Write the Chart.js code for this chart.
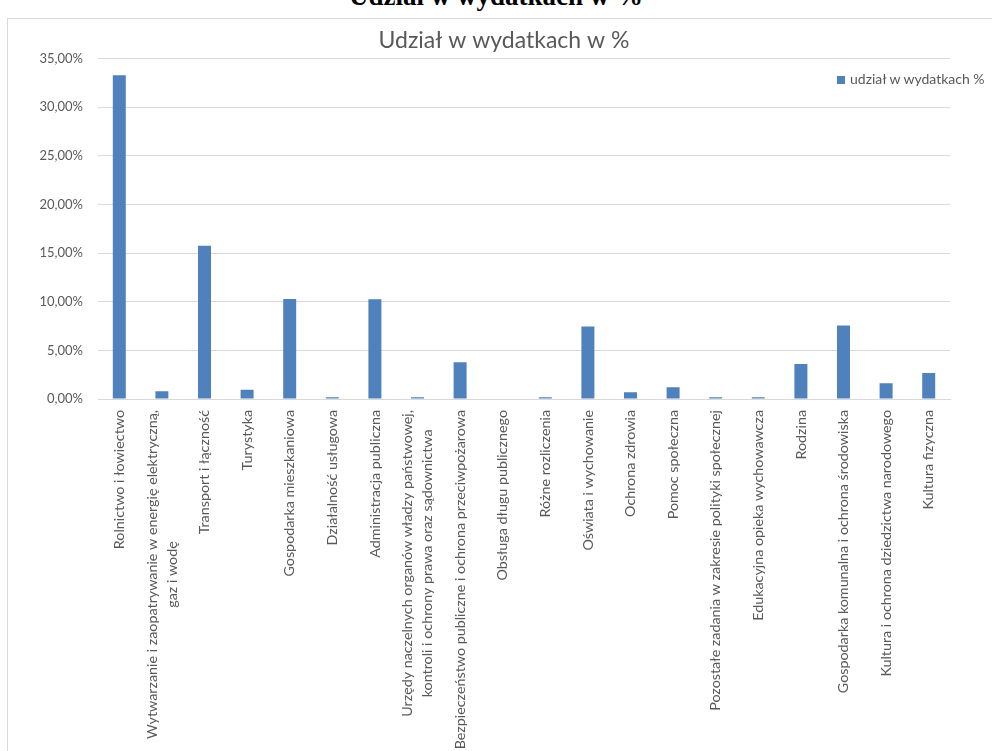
<!DOCTYPE html>
<html>
<head>
<meta charset="utf-8">
<script src="https://cdn.jsdelivr.net/npm/chart.js@4/dist/chart.umd.min.js"></script>
<style>
  html, body { margin: 0; padding: 0; background: #ffffff; overflow: hidden; }
  body { width: 992px; height: 751px; position: relative; }
  #heading { position: absolute; left: 0; width: 992px; top: -16.6px; text-align: center;
    font-family: "Liberation Serif", "Times New Roman", serif; font-weight: bold; font-size: 27px; line-height: 27px; color: #000; }
  #box { position: absolute; left: 7px; top: 18px; width: 1100px; height: 900px; border: 1px solid #d9d9d9; }
  #wrap { position: absolute; left: 0; top: 0; width: 992px; height: 751px; }
  #legend { position: absolute; left: 837px; top: 71px; font-family: Lato, "Open Sans", sans-serif; font-size: 14px; color: #595959; white-space: nowrap; line-height: 16px; }
  #legend span.sw { display: inline-block; width: 8px; height: 8px; background: #4f81bd; margin-right: 5px; vertical-align: 0px; }
</style>
</head>
<body>
<div id="heading">Udział w wydatkach w %</div>
<div id="box"></div>
<div id="wrap"><canvas id="c" width="992" height="751"></canvas></div>
<div id="legend"><span class="sw"></span>udział w wydatkach %</div>
<script>
const chartTitle = "Udział w wydatkach w %";
const seriesName = "udział w wydatkach %";
const categories = [
  "Rolnictwo i łowiectwo",
  ["Wytwarzanie i zaopatrywanie w energię elektryczną,", "gaz i wodę"],
  "Transport i łączność",
  "Turystyka",
  "Gospodarka mieszkaniowa",
  "Działalność usługowa",
  "Administracja publiczna",
  ["Urzędy naczelnych organów władzy państwowej,", "kontroli i ochrony prawa oraz sądownictwa"],
  "Bezpieczeństwo publiczne i ochrona przeciwpożarowa",
  "Obsługa długu publicznego",
  "Różne rozliczenia",
  "Oświata i wychowanie",
  "Ochrona zdrowia",
  "Pomoc społeczna",
  "Pozostałe zadania w zakresie polityki społecznej",
  "Edukacyjna opieka wychowawcza",
  "Rodzina",
  "Gospodarka komunalna i ochrona środowiska",
  "Kultura i ochrona dziedzictwa narodowego",
  "Kultura fizyczna"
];
const shareValues = [33.28, 0.79, 15.77, 0.96, 10.27, 0.17, 10.25, 0.17, 3.78, 0, 0.17, 7.46, 0.69, 1.20, 0.17, 0.17, 3.59, 7.56, 1.61, 2.67];
const yTicks = [0, 5, 10, 15, 20, 25, 30, 35];

const FONT = "Lato, 'Open Sans', sans-serif";
const TXT = "#595959";
const XFONT_SIZE = 14.3;
const XLINE = 20;

// Category labels drawn at the x scale's own tick positions, with multi-line labels centred like Excel
const xLabelPlugin = {
  id: 'xCenteredLabels',
  afterDraw(chart) {
    const s = chart.scales.x;
    const ctx = chart.ctx;
    ctx.save();
    ctx.font = XFONT_SIZE + "px " + FONT;
    ctx.fillStyle = TXT;
    ctx.textAlign = 'center';
    ctx.textBaseline = 'middle';
    s.ticks.forEach((t, i) => {
      const lines = [].concat(chart.data.labels[i]);
      const maxW = Math.max(...lines.map(l => ctx.measureText(l).width));
      const x = s.getPixelForTick(i);
      const y = s.top + 11 + maxW / 2;
      ctx.save();
      ctx.translate(x, y);
      ctx.rotate(-Math.PI / 2);
      lines.forEach((l, j) => ctx.fillText(l, 0, (j - (lines.length - 1) / 2) * XLINE));
      ctx.restore();
    });
    ctx.restore();
  }
};

new Chart(document.getElementById('c'), {
  type: 'bar',
  data: {
    labels: categories,
    datasets: [{
      label: seriesName,
      data: shareValues,
      backgroundColor: '#4f81bd',
      borderWidth: 0,
      categoryPercentage: 1.0,
      barPercentage: 0.305
    }]
  },
  plugins: [xLabelPlugin],
  options: {
    responsive: false,
    animation: false,
    devicePixelRatio: 1,
    layout: { padding: { left: 8, right: -8, top: 23, bottom: 0 } },
    plugins: {
      legend: { display: false },
      tooltip: { enabled: false },
      title: {
        display: true,
        text: chartTitle,
        color: TXT,
        font: { family: FONT, size: 23, weight: 'normal', lineHeight: 1.2 },
        padding: { top: 4, bottom: 4 }
      }
    },
    scales: {
      x: {
        grid: { display: false, drawTicks: false },
        border: { display: true, color: '#d9d9d9', width: 1 },
        ticks: { display: false },
        afterFit: (s) => { s.height = 352; }
      },
      y: {
        min: 0,
        max: 35,
        afterBuildTicks: (s) => { s.ticks = yTicks.map(v => ({ value: v })); },
        grid: { color: '#d9d9d9', lineWidth: 1, drawTicks: false },
        border: { display: false },
        ticks: {
          padding: 15,
          color: TXT,
          font: { family: FONT, size: 13 },
          callback: (v) => v.toFixed(2).replace('.', ',') + '%'
        },
        afterFit: (s) => { s.width = 90; }
      },
      yRightSpace: {
        type: 'linear',
        position: 'right',
        display: true,
        grid: { display: false, drawTicks: false },
        border: { display: false },
        ticks: { display: false },
        afterFit: (s) => { s.width = 50; }
      }
    }
  }
});
</script>
</body>
</html>
